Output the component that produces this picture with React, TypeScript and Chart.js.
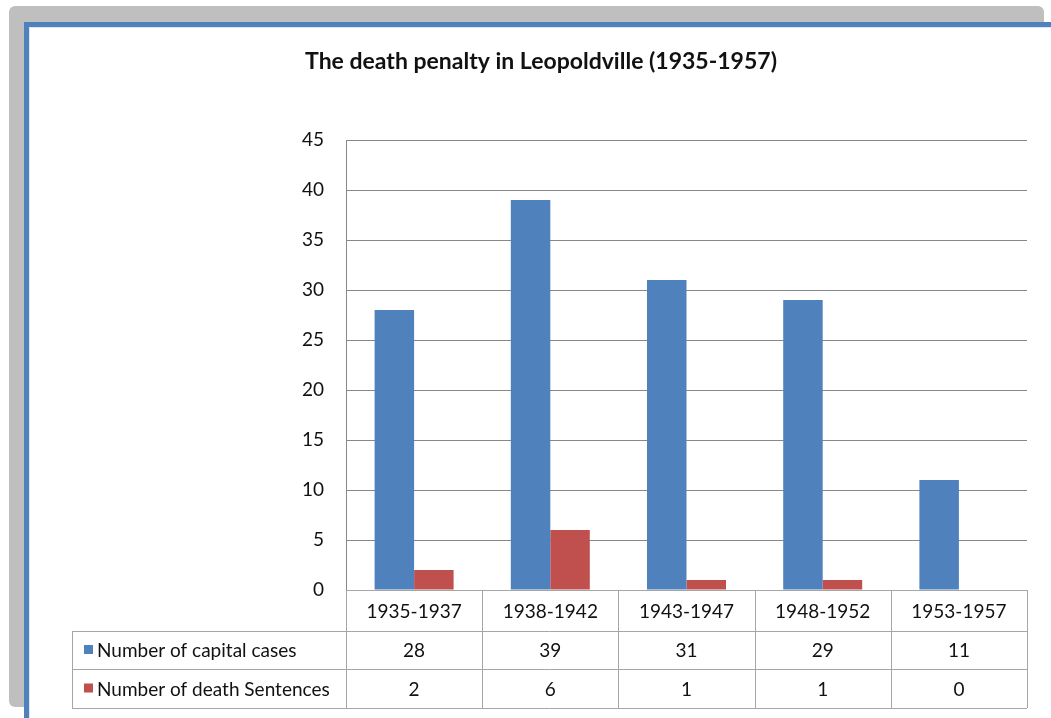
import React, { useEffect, useRef } from "react";
import { Chart, registerables } from "chart.js";

Chart.register(...registerables);

const categories = ["1935-1937", "1938-1942", "1943-1947", "1948-1952", "1953-1957"];
const capitalCases = [28, 39, 31, 29, 11];
const deathSentences = [2, 6, 1, 1, 0];
const seriesNames = ["Number of capital cases", "Number of death Sentences"];
const seriesColors = ["#4f81bd", "#c0504d"];
const chartTitle = "The death penalty in Leopoldville (1935-1957)";
const yMax = 45;
const yStep = 5;

const FONT = "Lato, 'Open Sans', sans-serif";

const framePlugin = {
  id: "frame",
  beforeDraw(chart: any) {
    const ctx = chart.ctx;
    ctx.save();
    // gray shadow panel
    ctx.fillStyle = "#bfbfbf";
    ctx.beginPath();
    (ctx as any).roundRect(9, 6, 1035, 701, 6);
    ctx.fill();
    // blue frame
    ctx.fillStyle = "#4f81bd";
    ctx.fillRect(24, 22, 1051 - 24, 718 - 22);
    ctx.fillStyle = "#dbe5f3";
    ctx.fillRect(29, 27, 1051 - 29, 718 - 27);
    ctx.fillStyle = "#ffffff";
    ctx.fillRect(30, 28, 1051 - 30, 718 - 28);
    // title
    ctx.fillStyle = "#111111";
    ctx.font = `bold 23px ${FONT}`;
    ctx.textAlign = "center";
    ctx.textBaseline = "middle";
    ctx.fillText(chartTitle, 541, 62);
    ctx.restore();
  },
  afterDraw(chart: any) {
    const ctx = chart.ctx;
    const x = chart.scales.x;
    const area = chart.chartArea;
    const n = categories.length;
    const catW = (area.right - area.left) / n;
    const top = area.bottom;
    const rows = [top, 631, 669, 708];
    const tableLeft = 72;
    ctx.save();
    ctx.strokeStyle = "#a6a6a6";
    ctx.lineWidth = 1;
    ctx.beginPath();
    ctx.moveTo(area.left, rows[0] + 0.5);
    ctx.lineTo(area.right, rows[0] + 0.5);
    for (let r = 1; r < rows.length; r++) {
      ctx.moveTo(tableLeft, rows[r] + 0.5);
      ctx.lineTo(area.right, rows[r] + 0.5);
    }
    ctx.moveTo(tableLeft + 0.5, rows[1]);
    ctx.lineTo(tableLeft + 0.5, rows[3]);
    for (let i = 0; i <= n; i++) {
      const px = Math.round(area.left + i * catW) + 0.5;
      ctx.moveTo(px, rows[0]);
      ctx.lineTo(px, rows[3]);
    }
    ctx.stroke();

    ctx.fillStyle = "#111111";
    ctx.font = `19px ${FONT}`;
    ctx.textBaseline = "middle";
    ctx.textAlign = "center";
    const series = [capitalCases, deathSentences];
    for (let i = 0; i < n; i++) {
      const cx = x.getPixelForValue(i);
      ctx.fillText(categories[i], cx, (rows[0] + rows[1]) / 2 + 1);
      for (let s = 0; s < series.length; s++) {
        ctx.fillText(String(series[s][i]), cx, (rows[s + 1] + rows[s + 2]) / 2 + 1);
      }
    }
    ctx.textAlign = "left";
    for (let s = 0; s < seriesNames.length; s++) {
      const cy = (rows[s + 1] + rows[s + 2]) / 2;
      ctx.fillStyle = seriesColors[s];
      ctx.fillRect(84, cy - 5, 9, 9);
      ctx.fillStyle = "#111111";
      ctx.fillText(seriesNames[s], 97, cy + 1);
    }
    ctx.restore();
  },
};

export default function App() {
  const ref = useRef<HTMLCanvasElement>(null);
  useEffect(() => {
    if (!ref.current) return;
    const chart = new Chart(ref.current, {
      type: "bar",
      data: {
        labels: categories,
        datasets: [
          {
            label: seriesNames[0],
            data: capitalCases,
            backgroundColor: seriesColors[0],
            categoryPercentage: 0.58,
            barPercentage: 1.0,
          },
          {
            label: seriesNames[1],
            data: deathSentences,
            backgroundColor: seriesColors[1],
            categoryPercentage: 0.58,
            barPercentage: 1.0,
          },
        ],
      },
      options: {
        animation: false,
        responsive: false,
        maintainAspectRatio: false,
        layout: { padding: { left: 0, right: 24, top: 140, bottom: 128 } },
        plugins: {
          legend: { display: false },
          title: { display: false },
          tooltip: { enabled: false },
        },
        scales: {
          x: { display: false },
          y: {
            min: 0,
            max: yMax,
            afterFit(scale: any) {
              scale.width = 346;
            },
            ticks: {
              stepSize: yStep,
              padding: 22,
              color: "#111111",
              font: { family: FONT, size: 19 },
            },
            grid: { color: "#888888", drawTicks: false, lineWidth: 1 },
            border: { display: true, color: "#888888" },
          },
        },
      },
      plugins: [framePlugin],
    });
    return () => chart.destroy();
  }, []);
  return (
    <div style={{ position: "absolute", left: 0, top: 0, width: 1051, height: 718 }}>
      <canvas ref={ref} width={1051} height={718} style={{ display: "block" }} />
    </div>
  );
}
